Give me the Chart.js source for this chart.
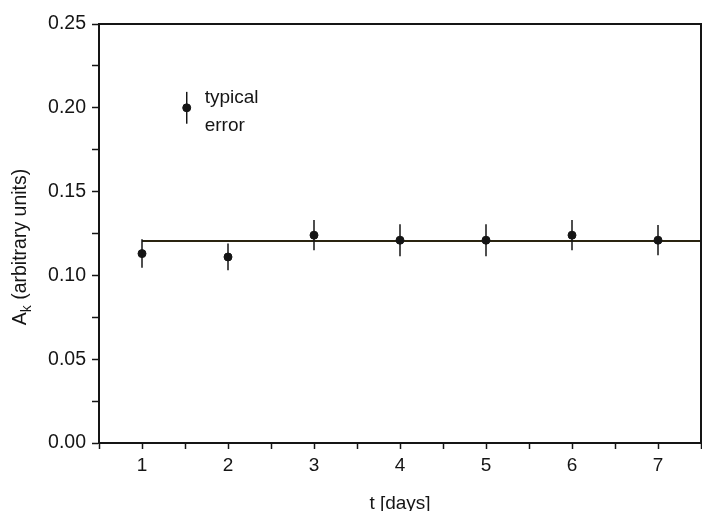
<!DOCTYPE html>
<html>
<head>
<meta charset="utf-8">
<script src="https://cdn.jsdelivr.net/npm/chart.js@4"></script>
<style>
  body { margin: 0; background: #fff; }
  canvas { display: block; }
</style>
</head>
<body>
<canvas id="akChart" width="702" height="511"></canvas>
<script>
// datos
const days = [1, 2, 3, 4, 5, 6, 7];
const amplitudes = [0.113, 0.111, 0.124, 0.121, 0.121, 0.124, 0.121];
const errors = [0.0085, 0.008, 0.009, 0.0095, 0.0095, 0.009, 0.009];
const meanLine = [[1, 0.1205], [7.5, 0.1205]];
const typicalPoint = [1.52, 0.2];
const typicalErr = 0.0095;
const yTicks = [0, 0.05, 0.1, 0.15, 0.2, 0.25];
const xTicks = [1, 2, 3, 4, 5, 6, 7];

const FONT = "'Liberation Sans', Arial, sans-serif";
const INK = "#151515";

// barras de error verticales
const errorBarPlugin = {
  id: "errorBars",
  afterDatasetsDraw(chart) {
    const ctx = chart.ctx;
    const xs = chart.scales.x, ys = chart.scales.y;
    chart.data.datasets.forEach(function (ds) {
      if (!ds.errorBars) return;
      ctx.save();
      ctx.strokeStyle = INK;
      ctx.lineWidth = 1.5;
      ds.data.forEach(function (p, i) {
        const e = ds.errorBars[i];
        const px = xs.getPixelForValue(p.x);
        ctx.beginPath();
        ctx.moveTo(px, ys.getPixelForValue(p.y - e));
        ctx.lineTo(px, ys.getPixelForValue(p.y + e));
        ctx.stroke();
      });
      ctx.restore();
    });
  },
};

// marco, titulo del eje y y texto de la leyenda
const framePlugin = {
  id: "frame",
  afterDraw(chart) {
    const ctx = chart.ctx;
    const a = chart.chartArea;
    const xs = chart.scales.x, ys = chart.scales.y;
    ctx.save();
    ctx.strokeStyle = INK;
    ctx.lineWidth = 2;
    ctx.beginPath();
    ctx.moveTo(a.left, a.top);
    ctx.lineTo(a.right, a.top);
    ctx.lineTo(a.right, a.bottom);
    ctx.stroke();

    // leyenda "typical error"
    ctx.fillStyle = INK;
    ctx.font = "19px " + FONT;
    ctx.textBaseline = "middle";
    const lx = xs.getPixelForValue(typicalPoint[0]) + 18;
    const ly = ys.getPixelForValue(typicalPoint[1]);
    ctx.fillText("typical", lx, ly - 10);
    ctx.fillText("error", lx, ly + 18);

    // titulo eje y con subindice
    ctx.translate(21, 247);
    ctx.rotate(-Math.PI / 2);
    ctx.textBaseline = "middle";
    const main = "A";
    const rest = " (arbitrary units)";
    ctx.font = "19.5px " + FONT;
    const wA = ctx.measureText(main).width;
    ctx.font = "14px " + FONT;
    const wk = ctx.measureText("k").width;
    ctx.font = "19.5px " + FONT;
    const wR = ctx.measureText(rest).width;
    let x0 = -(wA + wk + wR) / 2;
    ctx.fillText(main, x0, 0);
    ctx.font = "14px " + FONT;
    ctx.fillText("k", x0 + wA, 6);
    ctx.font = "19.5px " + FONT;
    ctx.fillText(rest, x0 + wA + wk, 0);
    ctx.restore();
  },
};

new Chart(document.getElementById("akChart"), {
  type: "scatter",
  data: {
    datasets: [
      {
        label: "A_k",
        data: days.map((d, i) => ({ x: d, y: amplitudes[i] })),
        errorBars: errors,
        backgroundColor: INK,
        borderColor: INK,
        pointRadius: 4,
      },
      {
        label: "typical error",
        data: [{ x: typicalPoint[0], y: typicalPoint[1] }],
        errorBars: [typicalErr],
        backgroundColor: INK,
        borderColor: INK,
        pointRadius: 4,
      },
      {
        label: "mean",
        type: "line",
        data: meanLine.map((p) => ({ x: p[0], y: p[1] })),
        borderColor: "#2a2410",
        borderWidth: 2,
        pointRadius: 0,
        fill: false,
      },
    ],
  },
  options: {
    responsive: false,
    animation: false,
    layout: { autoPadding: false, padding: { top: 24, right: 1, left: 0, bottom: 0 } },
    plugins: {
      legend: { display: false },
      tooltip: { enabled: false },
    },
    scales: {
      x: {
        type: "linear",
        min: 0.5,
        max: 7.5,
        afterFit(scale) {
          scale.height = 68;
          scale.paddingRight = 0;
          scale.paddingLeft = 0;
        },
        afterBuildTicks(scale) {
          const t = [];
          for (let v = 0.5; v <= 7.5001; v += 0.5) t.push({ value: v });
          scale.ticks = t;
        },
        grid: {
          drawOnChartArea: false,
          color: INK,
          tickLength: 6,
          tickWidth: 1.5,
        },
        border: { color: INK, width: 2 },
        ticks: {
          color: INK,
          font: { family: FONT, size: 19 },
          padding: 5,
          maxRotation: 0,
          autoSkip: false,
          callback: (v) => (xTicks.includes(v) ? String(v) : ""),
        },
        title: {
          display: true,
          text: "t [days]",
          color: INK,
          font: { family: FONT, size: 19 },
          padding: { top: 4, bottom: -4 },
        },
      },
      y: {
        min: 0,
        max: 0.25,
        afterFit(scale) { scale.width = 99; },
        afterBuildTicks(scale) {
          const t = [];
          for (let v = 0; v <= 0.2501; v += 0.025) t.push({ value: Math.round(v * 1000) / 1000 });
          scale.ticks = t;
        },
        grid: {
          drawOnChartArea: false,
          color: INK,
          tickLength: 7,
          tickWidth: 1.5,
        },
        border: { color: INK, width: 2 },
        ticks: {
          color: INK,
          font: { family: FONT, size: 19.5 },
          padding: 6,
          autoSkip: false,
          callback: (v) => (yTicks.some((t) => Math.abs(t - v) < 1e-6) ? v.toFixed(2) : ""),
        },
      },
    },
  },
  plugins: [errorBarPlugin, framePlugin],
});
</script>
</body>
</html>
